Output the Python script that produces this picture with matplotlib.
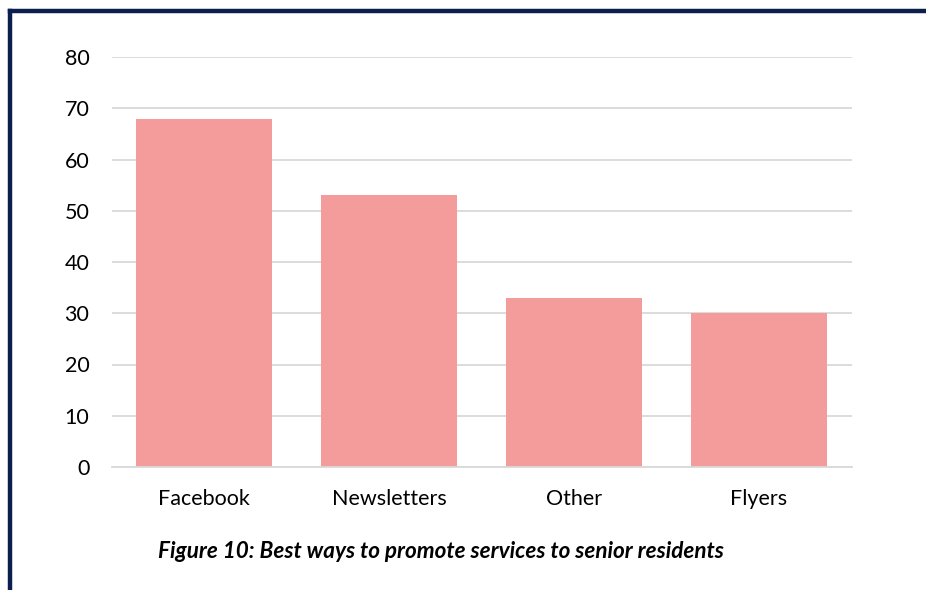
import matplotlib
matplotlib.use("Agg")
import matplotlib.pyplot as plt
from matplotlib.lines import Line2D

categories = ["Facebook", "Newsletters", "Other", "Flyers"]
values = [68, 53, 33, 30]
yticks = [0, 10, 20, 30, 40, 50, 60, 70, 80]
caption = "Figure 10: Best ways to promote services to senior residents"

plt.rcParams['font.family'] = ['Lato', 'DejaVu Sans']

W, H = 926, 590
fig = plt.figure(figsize=(W / 100, H / 100), dpi=100)
ax = fig.add_axes([111.5 / W, 1 - 467 / H, (851.5 - 111.5) / W, (467 - 57) / H])

x = range(len(categories))
ax.bar(x, values, width=0.735, color="#F49C9B", zorder=2)
ax.set_xlim(-0.5, len(categories) - 0.5)
ax.set_ylim(0, 80)
ax.set_yticks(yticks)
ax.set_yticklabels([str(t) for t in yticks])
ax.set_xticks(list(x))
ax.set_xticklabels(categories)
ax.yaxis.grid(True, color="#D9D9D9", linewidth=1.3, zorder=0)
ax.set_axisbelow(True)
for s in ["top", "right", "left"]:
    ax.spines[s].set_visible(False)
ax.spines["bottom"].set_color("#D9D9D9")
ax.spines["bottom"].set_linewidth(1.3)
ax.tick_params(axis="both", length=0, labelsize=15.5, colors="#000000")
ax.tick_params(axis="y", pad=16)
ax.tick_params(axis="x", pad=15.5)

fig.text(441 / W, 1 - 552 / H, caption, ha="center", va="center",
         fontsize=16.2, fontweight="bold", fontstyle="italic", color="#000000")

navy = "#0A1F4E"
fig.add_artist(Line2D([10 / W, 10 / W], [0, 1 - 11 / H], transform=fig.transFigure,
                      color=navy, linewidth=3.2, solid_capstyle="projecting"))
fig.add_artist(Line2D([10 / W, 1], [1 - 11 / H, 1 - 11 / H], transform=fig.transFigure,
                      color=navy, linewidth=3.2, solid_capstyle="projecting"))

fig.savefig("out.png", dpi=100)
